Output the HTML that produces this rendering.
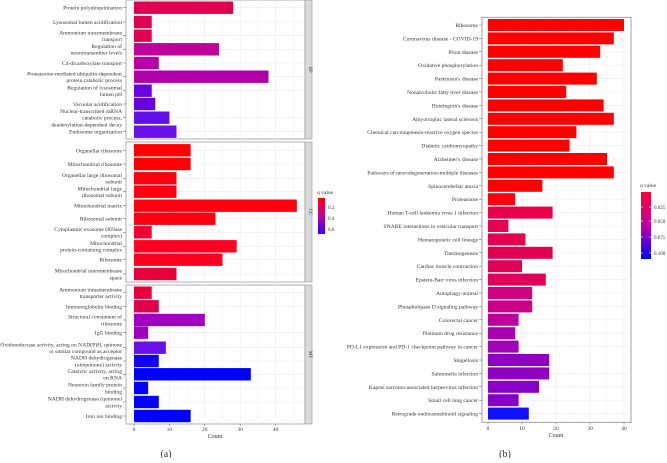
<!DOCTYPE html>
<html><head><meta charset="utf-8"><style>
body{margin:0;background:#fff;}
svg text{font-family:"Liberation Serif",serif;fill:#333;}
</style></head><body>
<svg id="c" width="667" height="458" xmlns="http://www.w3.org/2000/svg"></svg>
<script>
const aLabels1=["Protein polyubiquitination","Lysosomal lumen acidification","Ammonium transmembrane|transport","Regulation of|neurotransmitter levels","C4-dicarboxylate transport","Proteasome-mediated ubiquitin-dependent|protein catabolic process","Regulation of lysosomal|lumen pH","Vacuolar acidification","Nuclear-transcribed mRNA|catabolic process,|deadenylation-dependent decay","Endosome organization"];
const aCounts1=[28,5,5,24,7,38,5,6,10,12];
const aColors1=["#e0004f","#e0004f","#e0004f","#c0009a","#b800a8","#b000aa","#6a00e0","#6600e0","#6010e8","#6a10e8"];
const aLabels2=["Organellar ribosome","Mitochondrial ribosome","Organellar large ribosomal|subunit","Mitochondrial large|ribosomal subunit","Mitochondrial matrix","Ribosomal subunit","Cytoplasmic exosome (RNase|complex)","Mitochondrial|protein-containing complex","Ribosome","Mitochondrial intermembrane|space"];
const aCounts2=[16,16,12,12,46,23,5,29,25,12];
const aColors2=["#ff0000","#ff0000","#ff0010","#ff0010","#ff0010","#ff0010","#f00030","#ff0020","#ff0020","#e8003a"];
const aLabels3=["Ammonium transmembrane|transporter activity","Immunoglobulin binding","Structural constituent of|ribosome","IgG binding","Oxidoreductase activity, acting on NAD(P)H, quinone|or similar compound as acceptor","NADH dehydrogenase|(ubiquinone) activity","Catalytic activity, acting|on RNA","Neurexin family protein|binding","NADH dehydrogenase (quinone)|activity","Iron ion binding"];
const aCounts3=[5,7,20,4,9,7,33,4,7,16];
const aColors3=["#e8003a","#e0004a","#a000c0","#a000c0","#6a10e8","#1000f8","#0000ff","#0000ff","#0000ff","#0000ff"];
const aTicks=[0,10,20,30,40];
const bLabels=["Ribosome","Coronavirus disease - COVID-19","Prion disease","Oxidative phosphorylation","Parkinson's disease","Nonalcoholic fatty liver disease","Huntington's disease","Amyotrophic lateral sclerosis","Chemical carcinogenesis-reactive oxygen species","Diabetic cardiomyopathy","Alzheimer's disease","Pathways of neurodegeneration-multiple diseases","Spinocerebellar ataxia","Proteasome","Human T-cell leukemia virus 1 infection","SNARE interactions in vesicular transport","Hematopoietic cell lineage","Thermogenesis","Cardiac muscle contraction","Epstein-Barr virus infection","Autophagy-animal","Phospholipase D signaling pathway","Colorectal cancer","Platinum drug resistance","PD-L1 expression and PD-1 checkpoint pathway in cancer","Shigellosis","Salmonella infection","Kaposi sarcoma-associated herpesvirus infection","Small cell lung cancer","Retrograde endocannabinoid signaling"];
const bCounts=[40,37,33,22,32,23,34,37,26,24,35,37,16,8,19,6,11,19,10,17,13,13,9,8,9,18,18,15,9,12];
const bColors=["#ff0000","#ff0000","#ff0000","#ff0000","#ff0000","#ff0000","#ff0000","#ff0000","#ff0000","#ff0000","#ff0000","#ff0000","#ff0000","#ff0010","#e8004a","#e60050","#e60050","#e00050","#e00055","#e0005a","#d00080","#cc0088","#c0009a","#a800b0","#a000b8","#9000c0","#9000c0","#8800c8","#8800c8","#1010ff"];
const bTicks=[0,10,20,30,40];

const S=document.getElementById('c');const NS="http://www.w3.org/2000/svg";
function mk(t,a,p){const e=document.createElementNS(NS,t);for(const k in a)e.setAttribute(k,a[k]);(p||S).appendChild(e);return e;}
function txt(x,y,s,size,anchor,p){const e=mk('text',{x:x,y:y,'font-size':size,'text-anchor':anchor||'start'},p);e.textContent=s;return e;}

const ax=v=>134+v*3.54;
function panelA(top,bot,labels,counts,colors,centers,name,strip){
  const g=mk('g',{});
  
  
  mk('rect',{x:126,y:top,width:179,height:bot-top,fill:'#fff',stroke:'#999','stroke-width':0.8},g);
  for(let v=5;v<=45;v+=5){mk('line',{x1:ax(v),x2:ax(v),y1:top,y2:bot,stroke:v%10?'#f4f4f4':'#e8e8e8','stroke-width':0.6},g);}
  centers.forEach(c=>mk('line',{x1:126,x2:305,y1:c,y2:c,stroke:'#ececec','stroke-width':0.6},g));
  labels.forEach((l,i)=>{
    const c=centers[i];
    const r=mk('rect',{x:ax(0),y:c-6.2,width:ax(counts[i])-ax(0),height:12.4,fill:colors[i]},g);
    
    
    const lines=l.split('|');const n=lines.length;
    lines.forEach((s,j)=>{txt(122,c+2+(j-(n-1)/2)*6.8,s,5.6,'end',g);});
    mk('line',{x1:123,x2:126,y1:c,y2:c,stroke:'#555','stroke-width':0.5},g);
  });
  mk('rect',{x:305,y:top,width:7,height:bot-top,fill:'#d9d9d9',stroke:'#999','stroke-width':0.6},g);
  const st=txt(309,(top+bot)/2,strip,5,'middle',g);st.setAttribute('transform',`rotate(90 309 ${(top+bot)/2})`);
}
const c1=[7.7,22,35.7,49.3,63,76.7,90.7,104,117.7,131.7];
const c2=[150.3,164,178.3,191.7,205.7,218.7,232.3,246.3,259.7,274];
const c3=[292.7,306.3,320,332.7,347.7,361,374.3,388,402,416];
panelA(0,139,aLabels1,aCounts1,aColors1,c1,'bp-panel','BP');
panelA(142,282,aLabels2,aCounts2,aColors2,c2,'cc-panel','CC');
panelA(285,424,aLabels3,aCounts3,aColors3,c3,'mf-panel','MF');
aTicks.forEach(v=>{mk('line',{x1:ax(v),x2:ax(v),y1:424,y2:426,stroke:'#555','stroke-width':0.5});txt(ax(v),431,String(v),5.5,'middle');});
txt(215,438,'Count',6,'middle');
txt(166,457,'(a)',10,'middle');
const defs=mk('defs',{});
const gr=mk('linearGradient',{id:'ga',x1:0,y1:0,x2:0,y2:1},defs);
mk('stop',{offset:0,'stop-color':'#ff0000'},gr);mk('stop',{offset:0.5,'stop-color':'#c000a0'},gr);mk('stop',{offset:1,'stop-color':'#3000ff'},gr);
const gb=mk('linearGradient',{id:'gb',x1:0,y1:0,x2:0,y2:1},defs);
mk('stop',{offset:0,'stop-color':'#ff0030'},gb);mk('stop',{offset:0.5,'stop-color':'#c000a0'},gb);mk('stop',{offset:1,'stop-color':'#0000ff'},gb);
txt(317,194,'q value',5.5,'start');
mk('rect',{x:318,y:198,width:7,height:36,fill:'url(#ga)'});
[['0.2',207],['0.4',218],['0.6',229]].forEach(a=>txt(328,a[1]+2,a[0],5,'start'));

const bx=v=>488+v*3.4;
const by=i=>25+i*13.4;
mk('rect',{x:482,y:17.3,width:149,height:405,fill:'#fff',stroke:'#888','stroke-width':0.8});
for(let v=5;v<=40;v+=5){mk('line',{x1:bx(v),x2:bx(v),y1:17.3,y2:422.3,stroke:v%10?'#f4f4f4':'#e8e8e8','stroke-width':0.6});}
bLabels.forEach((l,i)=>{
  mk('line',{x1:482,x2:631,y1:by(i),y2:by(i),stroke:'#ececec','stroke-width':0.6});
  const r=mk('rect',{x:bx(0),y:by(i)-6,width:bx(bCounts[i])-bx(0),height:12,fill:bColors[i]});
  
  
  txt(478,by(i)+2,l,5.6,'end');
  mk('line',{x1:479,x2:482,y1:by(i),y2:by(i),stroke:'#555','stroke-width':0.5});
});
bTicks.forEach(v=>{mk('line',{x1:bx(v),x2:bx(v),y1:422.3,y2:424.5,stroke:'#555','stroke-width':0.5});txt(bx(v),430,String(v),5.5,'middle');});
txt(556,437,'Count',6,'middle');
txt(505,457,'(b)',10,'middle');
txt(640,187,'q value',5.5,'start');
mk('rect',{x:641,y:192,width:10,height:67,fill:'url(#gb)'});
[['0.025',207],['0.050',221],['0.075',237],['0.100',253]].forEach(a=>{mk('line',{x1:641,x2:643,y1:a[1],y2:a[1],stroke:'#fff','stroke-width':0.6});mk('line',{x1:649,x2:651,y1:a[1],y2:a[1],stroke:'#fff','stroke-width':0.6});txt(654,a[1]+2,a[0],5,'start');});
</script>
</body></html>
